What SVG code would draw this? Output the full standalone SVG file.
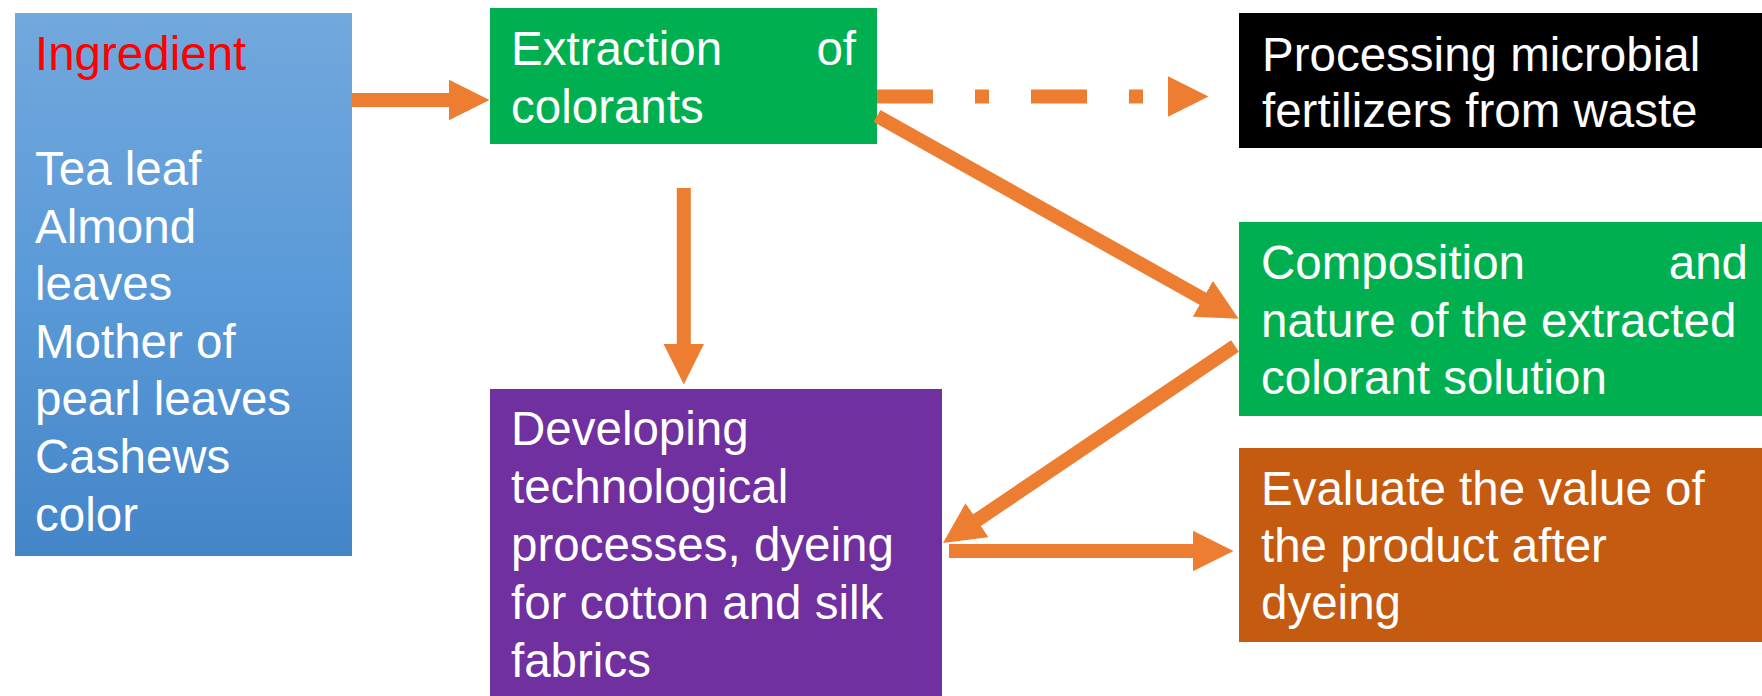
<svg xmlns="http://www.w3.org/2000/svg" width="1762" height="696" viewBox="0 0 1762 696">
<style>
.t{font-family:"Liberation Sans",Arial,sans-serif;font-size:47.5px;fill:#ffffff}
.red{fill:#ff0000}
.conn{fill:none;stroke:#ed7d31;stroke-width:14;stroke-linecap:butt}
.dash{stroke-dasharray:56 42 14 42}
</style>
<defs>
<linearGradient id="blueGrad" x1="0" y1="0" x2="0" y2="1">
<stop offset="0" stop-color="#72a8dc"/>
<stop offset="0.5" stop-color="#5a9ad8"/>
<stop offset="1" stop-color="#4485c8"/>
</linearGradient>
<marker id="ah" viewBox="0 0 41 41" markerWidth="41" markerHeight="41" markerUnits="userSpaceOnUse" refX="0.5" refY="20.5" orient="auto">
<path d="M0,0 L41,20.5 L0,41 z" fill="#ed7d31"/>
</marker>
</defs>
<g id="node-ingredient">
<rect x="15" y="13" width="337" height="543" fill="url(#blueGrad)"/>
<text class="t red" x="35" y="70">Ingredient</text>
<text class="t" x="35" y="185">Tea leaf</text>
<text class="t" x="35" y="243">Almond</text>
<text class="t" x="35" y="300">leaves</text>
<text class="t" x="35" y="358">Mother of</text>
<text class="t" x="35" y="415">pearl leaves</text>
<text class="t" x="35" y="473">Cashews</text>
<text class="t" x="35" y="531">color</text>
</g>
<g id="node-extraction">
<rect x="490" y="8" width="387" height="136" fill="#00b050"/>
<text class="t" x="511" y="65">Extraction</text>
<text class="t" x="856" y="65" text-anchor="end">of</text>
<text class="t" x="511" y="123">colorants</text>
</g>
<g id="node-fertilizers">
<rect x="1239" y="13" width="523" height="135" fill="#000000"/>
<text class="t" x="1262" y="71">Processing microbial</text>
<text class="t" x="1262" y="127">fertilizers from waste</text>
</g>
<g id="node-composition">
<rect x="1239" y="222" width="523" height="194" fill="#00b050"/>
<text class="t" x="1261" y="279">Composition</text>
<text class="t" x="1748" y="279" text-anchor="end">and</text>
<text class="t" x="1261" y="337">nature of the extracted</text>
<text class="t" x="1261" y="394">colorant solution</text>
</g>
<g id="node-developing">
<rect x="490" y="389" width="452" height="307" fill="#7030a0"/>
<text class="t" x="511" y="445">Developing</text>
<text class="t" x="511" y="503">technological</text>
<text class="t" x="511" y="561">processes, dyeing</text>
<text class="t" x="511" y="619">for cotton and silk</text>
<text class="t" x="511" y="677">fabrics</text>
</g>
<g id="node-evaluate">
<rect x="1239" y="448" width="523" height="194" fill="#c55a11"/>
<text class="t" x="1261" y="505">Evaluate the value of</text>
<text class="t" x="1261" y="562">the product after</text>
<text class="t" x="1261" y="619">dyeing</text>
</g>
<g id="connectors">
<path class="conn" d="M352,100 L449,100" marker-end="url(#ah)"/>
<path class="conn dash" d="M877,96.5 L1168,96.5" marker-end="url(#ah)"/>
<path class="conn" d="M877,116 L1203.3,299" marker-end="url(#ah)"/>
<path class="conn" d="M683.8,188 L683.8,344" marker-end="url(#ah)"/>
<path class="conn" d="M1235,346 L976.6,520.4" marker-end="url(#ah)"/>
<path class="conn" d="M949,551 L1193,551" marker-end="url(#ah)"/>
</g>
</svg>
